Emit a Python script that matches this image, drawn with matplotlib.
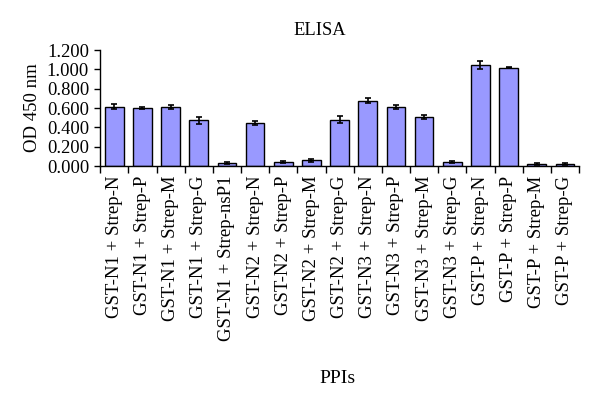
import matplotlib
matplotlib.use('Agg')
import matplotlib.pyplot as plt
import numpy as np

plt.rcParams['font.family'] = ['Liberation Serif', 'DejaVu Serif']

labels = ['GST-N1 + Strep-N', 'GST-N1 + Strep-P', 'GST-N1 + Strep-M', 'GST-N1 + Strep-G',
          'GST-N1 + Strep-nsP1', 'GST-N2 + Strep-N', 'GST-N2 + Strep-P', 'GST-N2 + Strep-M',
          'GST-N2 + Strep-G', 'GST-N3 + Strep-N', 'GST-N3 + Strep-P', 'GST-N3 + Strep-M',
          'GST-N3 + Strep-G', 'GST-P + Strep-N', 'GST-P + Strep-P', 'GST-P + Strep-M',
          'GST-P + Strep-G']
od = [0.615, 0.600, 0.608, 0.472, 0.035, 0.442, 0.040, 0.062, 0.478, 0.678,
      0.614, 0.510, 0.040, 1.045, 1.020, 0.022, 0.022]
err = [0.025, 0.010, 0.020, 0.040, 0.010, 0.022, 0.010, 0.015, 0.035, 0.030,
       0.020, 0.022, 0.010, 0.040, 0.010, 0.010, 0.010]
yticks = [0.0, 0.2, 0.4, 0.6, 0.8, 1.0, 1.2]

fig = plt.figure(figsize=(6, 4.11), dpi=100)
ax = fig.add_axes([0.167, 0.596, 0.798, 0.282])

x = np.arange(len(labels))
ax.bar(x, od, width=0.66, color='#9999FF', edgecolor='black', linewidth=1.0,
       yerr=err, error_kw=dict(ecolor='black', elinewidth=1.2, capsize=2, capthick=1.2))

ax.set_xlim(-0.5, len(labels) - 0.5)
ax.set_ylim(0, 1.2)
ax.set_yticks(yticks)
ax.set_yticklabels([f'{v:.3f}' for v in yticks], fontsize=13.3)
ax.set_xticks(x)
ax.set_xticklabels(labels, rotation=90, fontsize=13.5)
ax.tick_params(axis='x', length=0, pad=7)
ax.set_xticks(np.arange(len(labels) + 1) - 0.5, minor=True)
ax.tick_params(axis='x', which='minor', length=5, width=1, direction='out')
ax.tick_params(axis='y', length=4, width=1, direction='out', pad=4)
for s in ['top', 'right']:
    ax.spines[s].set_visible(False)
ax.spines['left'].set_linewidth(1)
ax.spines['bottom'].set_linewidth(1)

ax.set_ylabel('OD 450 nm', fontsize=13.5)
ax.yaxis.set_label_coords(-0.124, 0.5)
fig.text(0.533, 0.925, 'ELISA', ha='center', va='center', fontsize=13.3)
fig.text(0.563, 0.08, 'PPIs', ha='center', va='center', fontsize=14)

fig.savefig('out.png', dpi=100)
